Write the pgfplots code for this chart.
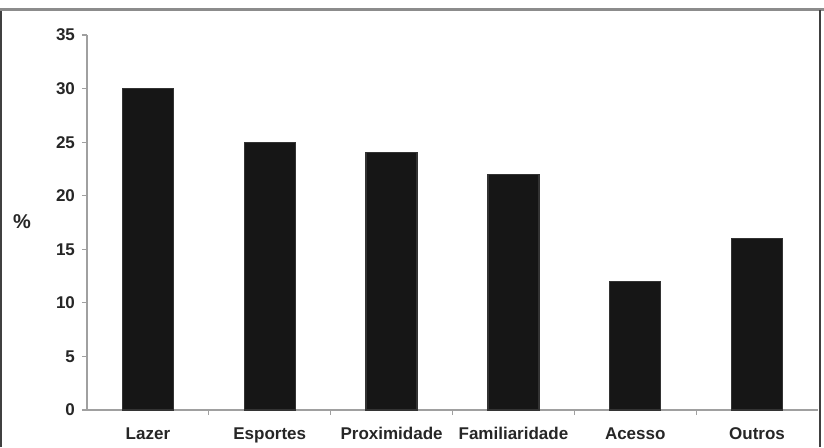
\documentclass[border=0pt]{standalone}
\usepackage{pgfplots}
\pgfplotsset{compat=1.18}
\usepackage{fontspec}
\setmainfont{Liberation Sans}
\definecolor{axgray}{RGB}{160,160,160}
\definecolor{barblack}{RGB}{22,22,22}
\begin{document}
\begin{tikzpicture}[x=0.5pt,y=0.5pt]
\useasboundingbox (0,0) rectangle (824,447);
% frame
\draw[line width=1pt, black!75] (1,0) -- (1,437.5);
\draw[line width=1.5pt, black!45] (0,437.5) -- (824,437.5);
\draw[line width=1pt, black!75] (820,0) -- (820,437.5);
\begin{axis}[
  at={(43.5pt,18.5pt)}, anchor=south west,
  scale only axis,
  width=365.5pt, height=187.5pt,
  xmin=-0.5, xmax=5.5, ymin=0, ymax=35,
  axis lines*=left,
  axis line style={axgray, line width=0.6pt},
  ytick={0,5,...,35},
  xtick={0,1,2,3,4,5},
  xticklabels={Lazer,Esportes,Proximidade,Familiaridade,Acesso,Outros},
  minor xtick={0.5,1.5,2.5,3.5,4.5},
  major x tick style={draw=none},
  tick style={axgray, line width=0.6pt},
  tick align=outside,
  major tick length=2.5pt,
  minor tick length=2.5pt,
  ticklabel style={font=\fontsize{8.5}{10}\selectfont\bfseries, text=black!85},
  /pgf/number format/assume math mode=true,
  xticklabel style={yshift=-2pt, text height=6.5pt, text depth=1.8pt},
  ylabel={\fontsize{10}{12}\selectfont\bfseries \%},
  every axis y label/.style={at={(axis description cs:0,0.503)}, anchor=center, xshift=-32.5pt, text=black!85},
  clip=false,
]
\addplot[ybar, bar width=25.5pt, fill=barblack, draw=black!80, line width=0.6pt]
  coordinates {(0,30) (1,25) (2,24) (3,22) (4,12) (5,16)};
\end{axis}
\end{tikzpicture}
\end{document}
